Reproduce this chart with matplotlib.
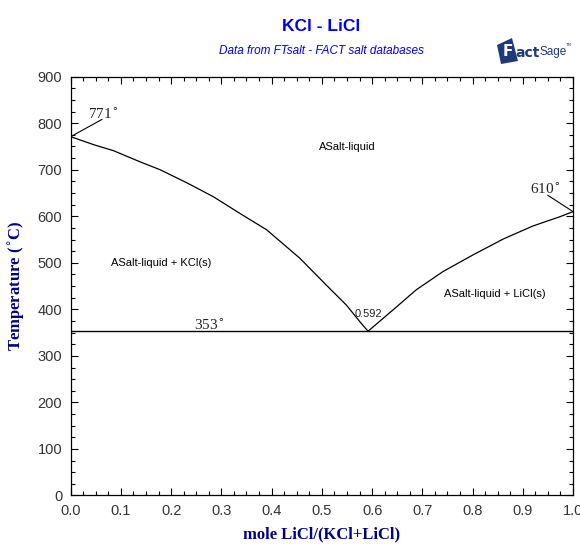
import matplotlib.pyplot as plt
from matplotlib.ticker import MultipleLocator
from matplotlib.patches import Polygon

# liquidus, KCl side (from pure KCl down to the eutectic)
x_kcl = [0.0, 0.048, 0.085, 0.138, 0.178, 0.231, 0.284, 0.337, 0.39, 0.456, 0.509, 0.549, 0.576, 0.592]
t_kcl = [771, 753, 741, 717, 700, 672, 642, 606, 571, 510, 452, 409, 373, 353]
# liquidus, LiCl side (from the eutectic up to pure LiCl)
x_licl = [0.592, 0.642, 0.688, 0.741, 0.801, 0.861, 0.920, 0.974, 1.0]
t_licl = [353, 399, 442, 481, 517, 551, 579, 599, 610]
# eutectic
x_eut = 0.592
t_eut = 353

navy = '#000080'
blue = '#0000ee'
logo = '#1f3a7a'
tickfont = ['Liberation Sans Narrow', 'Liberation Sans', 'DejaVu Sans']
sans = ['Liberation Sans', 'DejaVu Sans']
serif = ['Liberation Serif', 'DejaVu Serif']

fig = plt.figure(figsize=(5.8, 5.44), dpi=100)
ax = fig.add_axes([0.1219, 0.0892, 0.866, 0.7699])

ax.plot(x_kcl, t_kcl, color='black', lw=0.9)
ax.plot(x_licl, t_licl, color='black', lw=0.9)
ax.plot([0, 1], [t_eut, t_eut], color='black', lw=1.0)

# melting point leaders
ax.plot([0, 0.062], [771, 808], color='black', lw=0.8)
ax.plot([1, 0.95], [610, 645], color='black', lw=0.8)

ax.text(0.035, 810, '771$^{\\circ}$', fontsize=11, family=serif, color='#222222')
ax.text(0.915, 648, '610$^{\\circ}$', fontsize=11, family=serif, color='#222222')
ax.text(0.245, 356, '353$^{\\circ}$', fontsize=11, family=serif, color='#222222')
ax.text(x_eut, 389, f'{x_eut:.3f}', fontsize=8, family=tickfont, ha='center', va='center', color='#222222')

ax.text(0.55, 748, 'ASalt-liquid', fontsize=8, family=tickfont, ha='center', va='center')
ax.text(0.18, 500, 'ASalt-liquid + KCl(s)', fontsize=8, family=tickfont, ha='center', va='center')
ax.text(0.845, 432, 'ASalt-liquid + LiCl(s)', fontsize=8, family=tickfont, ha='center', va='center')

ax.set_xlim(0, 1)
ax.set_ylim(0, 900)
ax.xaxis.set_major_locator(MultipleLocator(0.1))
ax.xaxis.set_minor_locator(MultipleLocator(0.025))
ax.yaxis.set_major_locator(MultipleLocator(100))
ax.yaxis.set_minor_locator(MultipleLocator(25))
ax.tick_params(which='both', direction='in', top=True, right=True, width=0.8, pad=6)
ax.tick_params(which='major', length=5, labelsize=10.5, labelcolor='#333333')
ax.tick_params(which='minor', length=3)
ax.set_xticklabels([f'{v:.1f}' for v in ax.get_xticks()], family=tickfont)
ax.set_yticklabels([f'{int(v)}' for v in ax.get_yticks()], family=tickfont)
for s in ax.spines.values():
    s.set_linewidth(0.9)

ax.set_xlabel('mole LiCl/(KCl+LiCl)', fontsize=12, fontweight='bold', family=serif, color=navy, labelpad=6)
ax.set_ylabel('Temperature ($^{\\circ}$C)', fontsize=12, fontweight='bold', family=serif, color=navy, labelpad=8)

fig.text(0.554, 0.952, 'KCl - LiCl', fontsize=12.5, fontweight='bold', family=sans, color=blue, ha='center', va='center')
fig.text(0.555, 0.907, 'Data from FTsalt - FACT salt databases', fontsize=8.5, style='italic', family=sans,
         color=blue, ha='center', va='center')

# FactSage logo
W, H = 580, 544
pts = [(497, 45), (512, 38), (518, 61), (501, 64)]
fig.add_artist(Polygon([(px / W, 1 - py / H) for px, py in pts], closed=True,
                       facecolor=logo, edgecolor='none', transform=fig.transFigure))
fig.text(508 / W, 1 - 52 / H, 'F', fontsize=11, fontweight='bold', color='white', ha='center', va='center')
fig.text(515 / W, 1 - 53 / H, 'act', fontsize=10, fontweight='bold', color=logo, ha='left', va='center')
fig.text(539 / W, 1 - 52 / H, 'Sage', fontsize=8.5, color=logo, ha='left', va='center', family=tickfont)
fig.text(565 / W, 1 - 45 / H, 'TM', fontsize=3, color=logo, ha='left', va='center')

fig.savefig('out.png', dpi=100, facecolor='white')
